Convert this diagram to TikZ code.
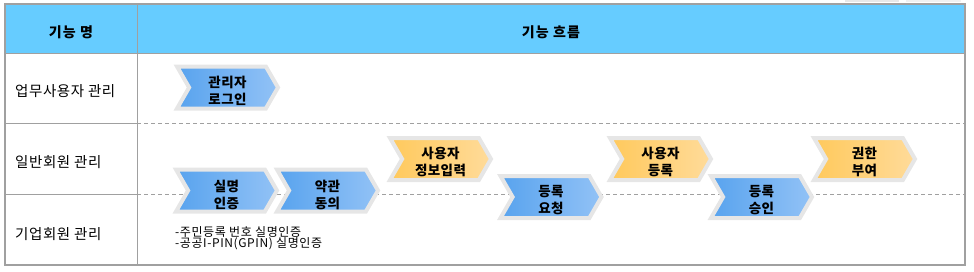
\documentclass[tikz,border=0pt]{standalone}
\usepackage{fontspec}
\newfontfamily\kr{Noto Sans CJK KR}
\usetikzlibrary{shapes.symbols}
\definecolor{hdr}{HTML}{66CCFF}
\definecolor{gridc}{HTML}{A0A0A0}
\definecolor{chevb}{HTML}{E6E6E6}
\definecolor{blueL}{HTML}{58A3EE}
\definecolor{blueR}{HTML}{92C2F6}
\definecolor{orL}{HTML}{FFC95C}
\definecolor{orR}{HTML}{FFDB9A}
\definecolor{tabc}{HTML}{E8E8E8}
\tikzset{
  chev/.style={signal, signal to=east, signal from=west, signal pointer angle=120,
    draw=chevb, line width=4pt, minimum width=101pt, minimum height=42pt,
    inner sep=0pt},
  bluechev/.style={chev, left color=blueL, right color=blueR},
  orchev/.style={chev, left color=orL, right color=orR},
  chevtext/.style={inner sep=0pt, align=center, text=black,
    font=\kr\bfseries\fontsize{13.5}{17}\selectfont\addfontfeature{LetterSpace=3}},
  rowlabel/.style={anchor=west, inner sep=0pt,
    font=\kr\fontsize{14.5}{16}\selectfont\addfontfeature{LetterSpace=4}},
  hdrlabel/.style={inner sep=0pt,
    font=\kr\bfseries\fontsize{14}{16}\selectfont\addfontfeature{LetterSpace=8}},
  note/.style={anchor=base west, inner sep=0pt,
    font=\kr\fontsize{12}{11}\selectfont\addfontfeature{LetterSpace=5}},
  gridline/.style={draw=gridc, line width=1pt},
  dashline/.style={draw=gridc, line width=0.9pt, dash pattern=on 4pt off 3pt}
}
\begin{document}
\begin{tikzpicture}[x=1pt, y=-1pt]
\useasboundingbox (0,0) rectangle (974,271);
% top tabs
\fill[tabc] (845,0) rectangle (899,2);
\fill[tabc!60] (906,0) rectangle (961,2);
% header
\fill[hdr] (5,4) rectangle (965,53);
% dashed row separators in flow column
\draw[dashline] (137,123) -- (965,123);
\draw[dashline] (137,194) -- (965,194);
% solid grid
\draw[gridline] (5,123) -- (137,123);
\draw[gridline] (5,194) -- (137,194);
\draw[gridline] (5,53) -- (965,53);
\draw[gridline] (137,4) -- (137,265);
\draw[gridline, line width=1.3pt] (5,4) rectangle (965,265);
% header text
\node[hdrlabel] (h1) at (71,32) {기능 명};
\node[hdrlabel] (h2) at (551,32) {기능 흐름};
% row labels
\node[rowlabel] (r1) at (15,91) {업무사용자 관리};
\node[rowlabel] (r2) at (15,162) {일반회원 관리};
\node[rowlabel] (r3) at (15,234) {기업회원 관리};
% chevrons
\node[bluechev] (c1) at (227.5,87.5) {};
\node[bluechev] (c2) at (226.5,190.5) {};
\node[bluechev] (c3) at (327.5,190.5) {};
\node[orchev] (c4) at (440.5,159) {};
\node[bluechev] (c5) at (551,197) {};
\node[orchev] (c6) at (660.5,159) {};
\node[bluechev] (c7) at (761.5,197) {};
\node[orchev] (c8) at (864.5,159) {};
% chevron texts
\node[chevtext] (t1) at ([yshift=-3pt]c1.center) {관리자\\로그인};
\node[chevtext] (t2) at ([yshift=-4pt]c2.center) {실명\\인증};
\node[chevtext] (t3) at ([yshift=-4pt]c3.center) {약관\\동의};
\node[chevtext] (t4) at ([yshift=-3pt]c4.center) {사용자\\정보입력};
\node[chevtext] (t5) at ([yshift=-3pt]c5.center) {등록\\요청};
\node[chevtext] (t6) at ([yshift=-3pt]c6.center) {사용자\\등록};
\node[chevtext] (t7) at ([yshift=-3pt]c7.center) {등록\\승인};
\node[chevtext] (t8) at ([yshift=-3pt]c8.center) {권한\\부여};
% notes
\node[note] (n1) at (175,236) {-주민등록 번호 실명인증};
\node[note] (n2) at (175,247) {-공공I-PIN(GPIN) 실명인증};
\end{tikzpicture}
\end{document}
